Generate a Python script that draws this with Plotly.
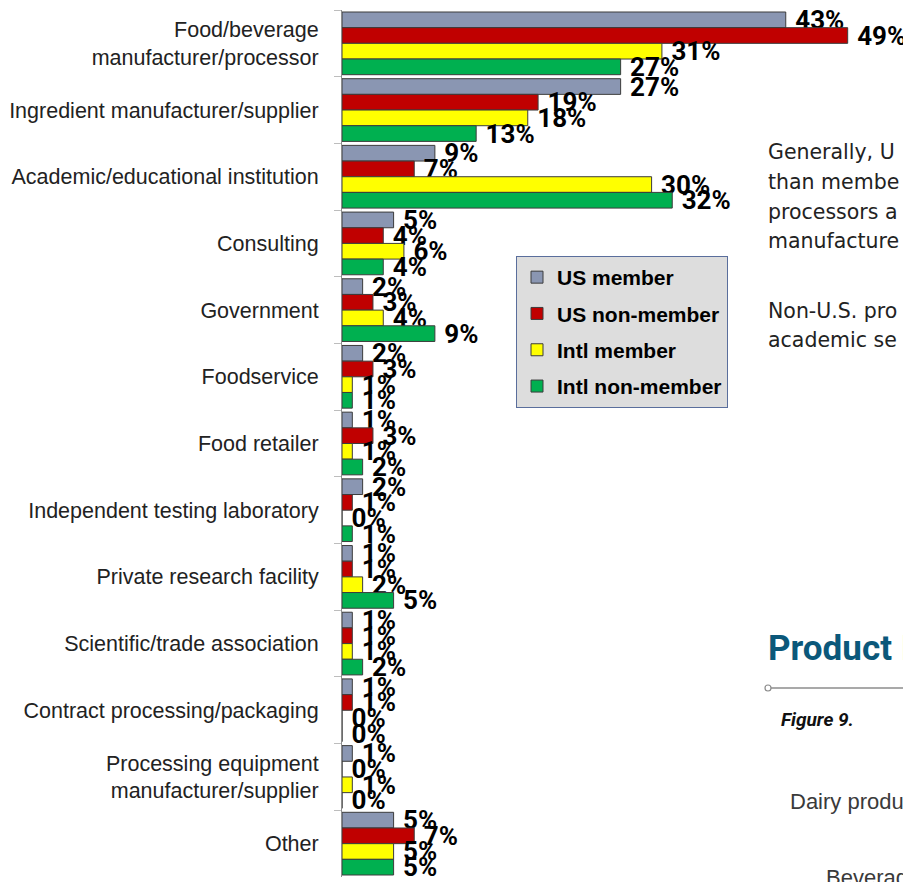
import plotly.graph_objects as go

# Primary business sector of respondents, by membership / region (percent)
categories = [
    "Food/beverage<br>manufacturer/processor",
    "Ingredient manufacturer/supplier",
    "Academic/educational institution",
    "Consulting",
    "Government",
    "Foodservice",
    "Food retailer",
    "Independent testing laboratory",
    "Private research facility",
    "Scientific/trade association",
    "Contract processing/packaging",
    "Processing equipment<br>manufacturer/supplier",
    "Other",
]
us_member = [43, 27, 9, 5, 2, 2, 1, 2, 1, 1, 1, 1, 5]
us_non_member = [49, 19, 7, 4, 3, 3, 3, 1, 1, 1, 1, 0, 7]
intl_member = [31, 18, 30, 6, 4, 1, 1, 0, 2, 1, 0, 1, 5]
intl_non_member = [27, 13, 32, 4, 9, 1, 2, 1, 5, 2, 0, 0, 5]

series_names = ["US member", "US non-member", "Intl member", "Intl non-member"]
series_values = [us_member, us_non_member, intl_member, intl_non_member]
series_colors = ["#8A96B2", "#C00000", "#FFFF00", "#00B050"]

W, H = 903, 882
PLOT_L, PLOT_R, PLOT_T, PLOT_B = 342, 858, 10, 877


def px_x(x):
    return (x - PLOT_L) / (PLOT_R - PLOT_L)


def px_y(y):
    return (PLOT_B - y) / (PLOT_B - PLOT_T)


NARROW = "Roboto, Liberation Sans, sans-serif"
ARIAL = "Liberation Sans, Arial, sans-serif"

fig = go.Figure()
for name, vals, color in zip(series_names, series_values, series_colors):
    fig.add_trace(go.Bar(
        y=categories,
        x=vals,
        name=name,
        orientation="h",
        legendgroup=name,
        marker=dict(color=color, line=dict(color="#3C3C3C", width=1)),
        texttemplate="\u00a0%{x}%",
        textposition="outside",
        constraintext="none",
        cliponaxis=False,
        textfont=dict(family=NARROW, size=26, color="#000000", weight="bold"),
        hoverinfo="skip",
    ))

# Surrounding page text beside the chart
annotations = []
body_lines = [
    ("Generally, U", 152),
    ("than membe", 182),
    ("processors a", 212),
    ("manufacture", 241),
    ("Non-U.S. pro", 311),
    ("academic se", 340),
]
for txt, yc in body_lines:
    annotations.append(dict(
        text=txt, x=px_x(766), y=px_y(yc), xref="paper", yref="paper",
        xanchor="left", yanchor="middle", showarrow=False,
        font=dict(family="DejaVu Sans, sans-serif", size=20.5, color="#222222"),
    ))

annotations.append(dict(
    text="Product I", x=px_x(766), y=px_y(648), xref="paper", yref="paper",
    xanchor="left", yanchor="middle", showarrow=False,
    font=dict(family=NARROW, size=35, color="#0B587A", weight="bold"),
))
annotations.append(dict(
    text="Figure 9.", x=px_x(779), y=px_y(719), xref="paper", yref="paper",
    xanchor="left", yanchor="middle", showarrow=False,
    font=dict(family=NARROW, size=19, color="#111111", style="italic", weight="bold"),
))
annotations.append(dict(
    text="Dairy produ", x=px_x(788), y=px_y(801), xref="paper", yref="paper",
    xanchor="left", yanchor="middle", showarrow=False,
    font=dict(family=ARIAL, size=22, color="#3A3A3A"),
))
annotations.append(dict(
    text="Beverag", x=px_x(824), y=px_y(877), xref="paper", yref="paper",
    xanchor="left", yanchor="middle", showarrow=False,
    font=dict(family=ARIAL, size=22, color="#3A3A3A"),
))

shapes = [
    dict(type="line", xref="paper", yref="paper",
         x0=px_x(771), x1=px_x(910), y0=px_y(688), y1=px_y(688),
         line=dict(color="#8C8C8C", width=1.5)),
    dict(type="circle", xref="paper", yref="paper",
         x0=px_x(765), x1=px_x(771), y0=px_y(685), y1=px_y(691),
         line=dict(color="#8C8C8C", width=1.2), fillcolor="#FFFFFF"),
]

fig.update_layout(
    width=W,
    height=H,
    margin=dict(l=PLOT_L, r=W - PLOT_R, t=PLOT_T, b=H - PLOT_B, pad=0),
    paper_bgcolor="#FFFFFF",
    plot_bgcolor="rgba(0,0,0,0)",
    barmode="group",
    bargap=0.06,
    bargroupgap=0,
    showlegend=True,
    legend=dict(
        x=px_x(516), y=px_y(256), xanchor="left", yanchor="top",
        bgcolor="#DDDDDD", bordercolor="#5A6E9C", borderwidth=1,
        font=dict(family=ARIAL, size=21, color="#000000", weight="bold"),
        traceorder="grouped", tracegroupgap=6, itemwidth=30,
    ),
    xaxis=dict(visible=False, range=[0, 50], fixedrange=True),
    yaxis=dict(
        type="category",
        categoryorder="array",
        categoryarray=categories,
        autorange="reversed",
        tickson="boundaries",
        ticks="outside",
        ticklen=7,
        tickcolor="#BDBDBD",
        showline=True,
        linecolor="#8C8C8C",
        linewidth=1,
        showgrid=False,
        ticklabelstandoff=18,
        tickfont=dict(family=ARIAL, size=21.5, color="#222222"),
    ),
    annotations=annotations,
    shapes=shapes,
)

fig.write_html("out.html")
